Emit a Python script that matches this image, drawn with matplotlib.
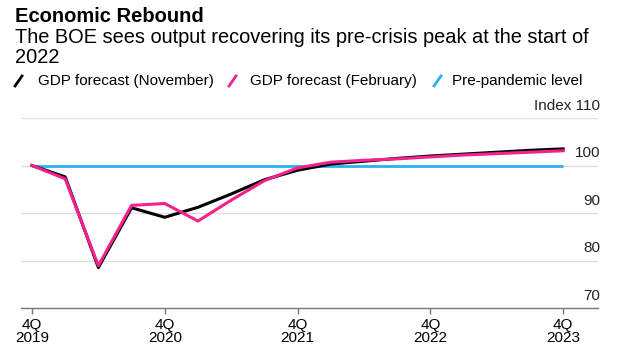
import matplotlib
matplotlib.use("Agg")
import matplotlib.pyplot as plt
from matplotlib.lines import Line2D
from matplotlib.transforms import blended_transform_factory

plt.rcParams["font.family"] = ["Liberation Sans", "DejaVu Sans"]

# quarters from 4Q 2019 to 4Q 2023
quarters = list(range(17))
gdp_nov = [100, 97.6, 78.5, 91.1, 89.1, 91.2, 94.0, 97.0, 99.0, 100.3, 100.9,
           101.5, 102.0, 102.4, 102.8, 103.2, 103.5]
gdp_feb = [100, 97.2, 78.9, 91.6, 92.0, 88.3, 92.7, 96.8, 99.5, 100.7, 101.1,
           101.4, 101.8, 102.2, 102.5, 102.8, 103.1]
pre_pandemic = [100] * 17

xtick_pos = [0, 4, 8, 12, 16]
xtick_labels = ["4Q\n2019", "4Q\n2020", "4Q\n2021", "4Q\n2022", "4Q\n2023"]
ytick_vals = [70, 80, 90, 100, 110]
ytick_labels = ["70", "80", "90", "100", "Index 110"]

c_black = "#000000"
c_pink = "#f5218c"
c_blue = "#29b1f0"

fig = plt.figure(figsize=(6.2, 3.51), dpi=100)
ax = fig.add_axes([21 / 620, 1 - 308 / 351, 577 / 620, 190 / 351])

for v in ytick_vals[1:]:
    ax.axhline(v, color="#dedede", linewidth=0.9, zorder=1)

ax.plot(quarters, pre_pandemic, color=c_blue, linewidth=2.0, zorder=3,
        solid_capstyle="butt")
ax.plot(quarters, gdp_nov, color=c_black, linewidth=2.2, zorder=4)
ax.plot(quarters, gdp_feb, color=c_pink, linewidth=2.2, zorder=5)

ax.set_xlim(-0.33, 17.05)
ax.set_ylim(70, 110)
for s in ["top", "right", "left"]:
    ax.spines[s].set_visible(False)
ax.spines["bottom"].set_color("#777777")
ax.spines["bottom"].set_linewidth(1.0)
ax.set_yticks([])
ax.set_xticks(xtick_pos)
ax.set_xticklabels(xtick_labels, fontsize=11, linespacing=0.95,
                   multialignment="center")
ax.tick_params(axis="x", length=4, width=1.0, color="#777777", pad=3)

tr = blended_transform_factory(fig.transFigure, ax.transData)
for v, lab in zip(ytick_vals, ytick_labels):
    ax.text(600 / 620, v + 2.6, lab, transform=tr, ha="right", va="center",
            fontsize=11, color="#222222")

fig.text(15 / 620, 1 - 16 / 351, "Economic Rebound", fontsize=14.5,
         fontweight="bold", va="center")
fig.text(15 / 620, 1 - 28 / 351,
         "The BOE sees output recovering its pre-crisis peak at the start of\n2022",
         fontsize=14.4, va="top", linespacing=1.07)

legend_items = [("GDP forecast (November)", c_black, 15, 38),
                ("GDP forecast (February)", c_pink, 229, 250),
                ("Pre-pandemic level", c_blue, 434, 452)]
ly = 1 - 81 / 351
for text, col, xs, xt in legend_items:
    fig.add_artist(Line2D([xs / 620, (xs + 7) / 620], [ly - 5 / 351, ly + 5 / 351],
                          color=col, linewidth=2.0, transform=fig.transFigure))
    fig.text(xt / 620, ly, text, fontsize=11, va="center")

fig.savefig("out.png", dpi=100)
